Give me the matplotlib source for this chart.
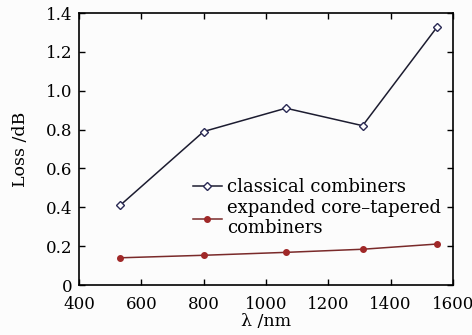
"""
Insertion loss vs wavelength for the two combiner types.
"""

import matplotlib.pyplot as plt

# Data
wavelength = [532, 800, 1064, 1310, 1550]
classical_loss = [0.41, 0.79, 0.91, 0.82, 1.33]
tapered_loss = [0.14, 0.153, 0.168, 0.184, 0.211]
x_ticks = [400, 600, 800, 1000, 1200, 1400, 1600]
y_ticks = [0, 0.2, 0.4, 0.6, 0.8, 1.0, 1.2, 1.4]
y_tick_labels = ['0', '0.2', '0.4', '0.6', '0.8', '1.0', '1.2', '1.4']

plt.rcParams['font.family'] = ['DejaVu Serif']

fig = plt.figure(figsize=(4.72, 3.35), dpi=100)
fig.patch.set_facecolor('#fcfcfc')
ax = fig.add_axes([79/472, 1 - 285/335, (453-79)/472, (285-13)/335])
ax.set_facecolor('#fcfcfc')

ax.plot(wavelength, classical_loss, color='#1c1c30', lw=1.1, marker='D',
        markersize=4.5, markerfacecolor='white', markeredgecolor='#2a2a55',
        markeredgewidth=1.0, label='classical combiners')
ax.plot(wavelength, tapered_loss, color='#7a2a2a', lw=1.1, marker='o',
        markersize=4, markerfacecolor='#a02828', markeredgecolor='#a02828',
        label='expanded core\u2013tapered\ncombiners')

ax.set_xlim(400, 1600)
ax.set_ylim(0, 1.4)
ax.set_xticks(x_ticks)
ax.set_yticks(y_ticks)
ax.set_yticklabels(y_tick_labels)
ax.tick_params(direction='in', top=True, right=True, labelsize=12,
               length=4, width=1)
ax.tick_params(axis='x', pad=8)
ax.tick_params(axis='y', pad=5)
for s in ax.spines.values():
    s.set_linewidth(1.2)

ax.set_xlabel('\u03bb /nm', fontsize=12.5, labelpad=0)
ax.set_ylabel('Loss /dB', fontsize=12.5, labelpad=12)

ax.legend(loc='upper left', bbox_to_anchor=(0.285, 0.42), frameon=False,
          fontsize=13, handlelength=1.6, handletextpad=0.3,
          labelspacing=0.15, borderaxespad=0)

fig.savefig('out.png', dpi=100, facecolor=fig.get_facecolor())
